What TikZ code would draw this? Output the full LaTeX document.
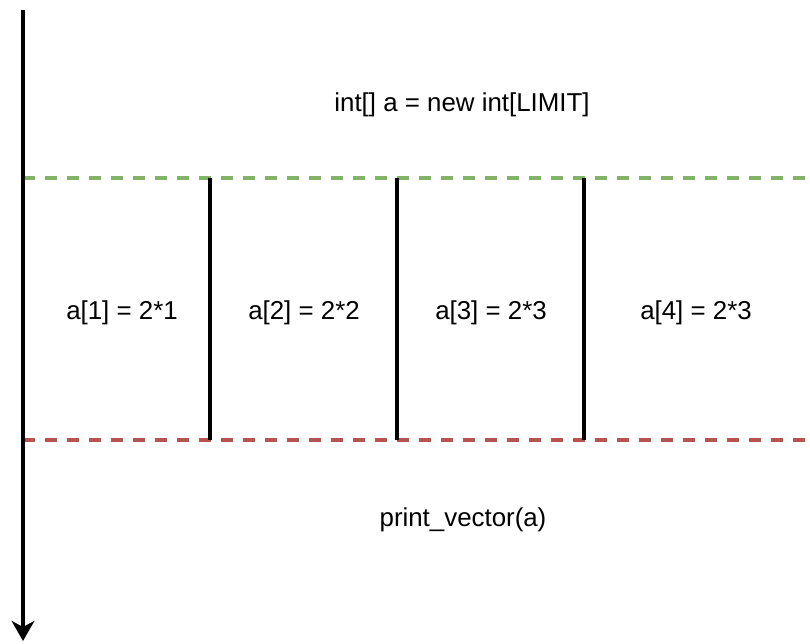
\documentclass[tikz,border=0pt]{standalone}
\usepackage{fontspec}
\setmainfont{Liberation Sans}
\usetikzlibrary{arrows.meta}
\definecolor{dgreen}{HTML}{82B366}
\definecolor{dred}{HTML}{B85450}
\begin{document}
\begin{tikzpicture}[x=0.75pt,y=-0.75pt,
  lbl/.style={font=\fontsize{19.4}{23}\selectfont, inner sep=0pt, anchor=center},
  sep/.style={line width=2.5pt, black},
  dline/.style={line width=2.5pt, dash pattern=on 9pt off 7.5pt},
  timeline/.style={line width=2.5pt, -{Stealth[length=15pt,width=17pt,inset=4.5pt]}}]
\useasboundingbox (0,0) rectangle (810,643);
\coordinate (top) at (23,10);
\coordinate (bot) at (23,641);
\coordinate (g0) at (23,178);
\coordinate (g1) at (810,178);
\coordinate (r0) at (23,440);
\coordinate (r1) at (810,440);
\coordinate (s1t) at (210,178); \coordinate (s1b) at (210,440);
\coordinate (s2t) at (397,178); \coordinate (s2b) at (397,440);
\coordinate (s3t) at (584,178); \coordinate (s3b) at (584,440);
\draw[dline, dgreen] (g0) -- (g1);
\draw[dline, dred] (r0) -- (r1);
\draw[sep] (s1t) -- (s1b);
\draw[sep] (s2t) -- (s2b);
\draw[sep] (s3t) -- (s3b);
\draw[timeline] (top) -- (bot);
\node[lbl] (init) at (462,105) {int[] a = new int[LIMIT]};
\node[lbl] (c1) at (122,313) {a[1] = 2*1};
\node[lbl] (c2) at (304,313) {a[2] = 2*2};
\node[lbl] (c3) at (491,313) {a[3] = 2*3};
\node[lbl] (c4) at (696,313) {a[4] = 2*3};
\node[lbl] (pr) at (463,520) {print\_vector(a)};
\end{tikzpicture}
\end{document}
